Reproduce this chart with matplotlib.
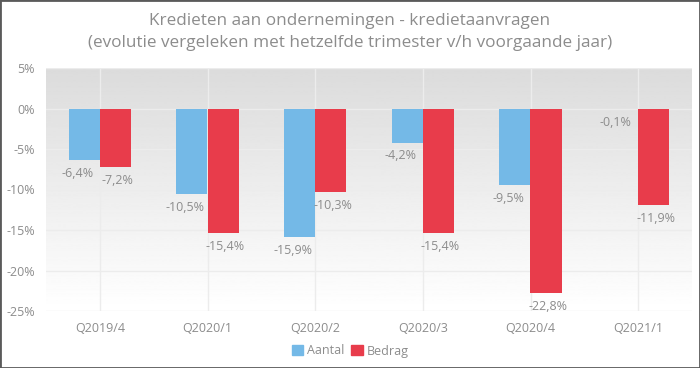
import numpy as np
import matplotlib.pyplot as plt
from matplotlib.patches import Rectangle, Patch
from matplotlib.ticker import FuncFormatter

kwartalen = ["Q2019/4", "Q2020/1", "Q2020/2", "Q2020/3", "Q2020/4", "Q2021/1"]
aantal = [-6.4, -10.5, -15.9, -4.2, -9.5, -0.1]
bedrag = [-7.2, -15.4, -10.3, -15.4, -22.8, -11.9]

titel = ("Kredieten aan ondernemingen - kredietaanvragen\n"
         "(evolutie vergeleken met hetzelfde trimester v/h voorgaande jaar)")

blauw = "#74b9e7"
rood = "#e83c4b"
grijs = "#8c8c8c"

plt.rcParams["font.family"] = ["Open Sans", "DejaVu Sans"]

fig = plt.figure(figsize=(7, 3.68), dpi=100)
ax = fig.add_axes([46/700, 1-311/368, 646/700, 243/368])

x = np.arange(len(kwartalen))
w = 0.29

# achtergrond met verloop
grad = np.linspace(0.86, 1.0, 256).reshape(-1, 1)
ax.imshow(grad, cmap="gray", vmin=0, vmax=1, aspect="auto",
          extent=[-0.5, len(kwartalen)-0.5, -25, 5], origin="upper", zorder=0)

b1 = ax.bar(x - w/2, aantal, w, color=blauw, zorder=3)
b2 = ax.bar(x + w/2, bedrag, w, color=rood, zorder=3)

# labels onder de balken, blauw iets naar links, rood iets naar rechts
for bars, vals, dx in [(b1, aantal, -5), (b2, bedrag, 1.5)]:
    for r, v in zip(bars, vals):
        ax.annotate(f"{v:.1f}%".replace(".", ","),
                    (r.get_x() + r.get_width()/2, v),
                    xytext=(dx, -9.7), textcoords="offset points",
                    ha="center", va="center", fontsize=9, color=grijs, zorder=4)

ax.set_xlim(-0.5, len(kwartalen)-0.5)
ax.set_ylim(-25, 5)
ax.set_yticks(range(-25, 6, 5))
ax.yaxis.set_major_formatter(FuncFormatter(lambda v, p: f"{v:.0f}%"))
ax.set_xticks(x)
ax.set_xticklabels(kwartalen)
ax.tick_params(length=0, colors=grijs, labelsize=9)
ax.tick_params(axis="x", pad=8)
ax.tick_params(axis="y", pad=8)
for s in ax.spines.values():
    s.set_visible(False)
ax.grid(True, color="#ececec", linewidth=1, zorder=1)
ax.set_axisbelow(True)

fig.text(0.5, 1-32/368, titel, ha="center", va="center", fontsize=12.3,
         color=grijs, linespacing=1.45)

fig.legend(handles=[Patch(color=blauw, label="Aantal"), Patch(color=rood, label="Bedrag")],
           loc="center", bbox_to_anchor=(0.5, 1-351/368), ncol=2, frameon=False,
           fontsize=9, labelcolor=grijs, handlelength=0.9, handleheight=0.9,
           handletextpad=0.3, columnspacing=0.6)

fig.patches.append(Rectangle((0, 0), 1, 1, transform=fig.transFigure,
                             fill=False, edgecolor="#5a5a5a", linewidth=2))

fig.savefig("out.png", dpi=100)
